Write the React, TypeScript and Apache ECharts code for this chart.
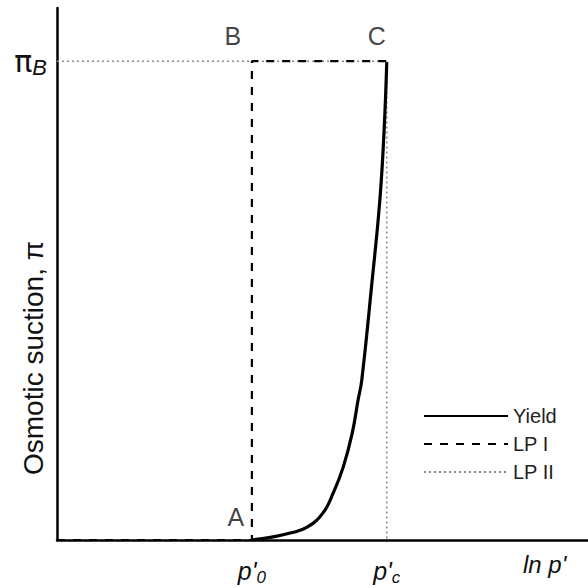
import React, { useEffect, useRef } from "react";
import * as echarts from "echarts";

// axis ranges (arbitrary units)
const X_MAX = 10;
const Y_MAX = 10;

// characteristic points
const P0 = 3.67; // p'0
const PC = 6.21; // p'c
const PI_B = 9; // π_B

// yield curve
const yieldX = [3.67, 4.07, 4.39, 4.71, 5.01, 5.2, 5.39, 5.56, 5.67, 5.74, 5.93, 6.08, 6.16, 6.21];
const yieldY = [0, 0.06, 0.13, 0.24, 0.51, 0.88, 1.37, 2.01, 2.63, 3.01, 4.83, 6.39, 7.7, 8.98];

// loading paths
const lp1X = [0, P0, P0, PC];
const lp1Y = [0, 0, PI_B, PI_B];
const lp2X = [0, PC, PC];
const lp2Y = [PI_B, PI_B, 0];

// point labels
const pointNames = ["A", "B", "C"];
const pointX = [P0, P0, PC];
const pointY = [0, PI_B, PI_B];

const legendNames = ["Yield", "LP I", "LP II"];

const FONT = "Liberation Sans, Arial, Helvetica, sans-serif";

export default function App() {
  const ref = useRef<HTMLDivElement>(null);

  useEffect(() => {
    if (!ref.current) return;
    const chart = echarts.init(ref.current, undefined, { renderer: "svg" });

    const zip = (xs: number[], ys: number[]) => xs.map((x, i) => [x, ys[i]]);
    const labelOffsets: [number, number][] = [
      [-16, -23],
      [-19, -25],
      [-10, -25],
    ];

    chart.setOption({
      animation: false,
      backgroundColor: "#ffffff",
      textStyle: { fontFamily: FONT },
      grid: { left: 57, top: 8, right: 0, bottom: 48, containLabel: false },
      xAxis: {
        type: "value",
        min: 0,
        max: X_MAX,
        name: "ln p'",
        nameLocation: "end",
        nameGap: -65,
        nameTextStyle: {
          fontFamily: FONT,
          fontSize: 24,
          fontStyle: "italic",
          color: "#111",
          align: "left",
          verticalAlign: "top",
          padding: [12, 0, 0, 0],
        },
        axisLine: { show: true, onZero: false, lineStyle: { color: "#000", width: 2.5 } },
        axisTick: { show: false },
        splitLine: { show: false },
        axisLabel: {
          customValues: [P0, PC],
          margin: 15,
          color: "#111",
          formatter: (v: number) =>
            Math.abs(v - P0) < 1e-6 ? "{p|p'}{s|0}" : "{p|p'}{s|c}",
          rich: {
            p: { fontFamily: FONT, fontSize: 25, fontStyle: "italic", color: "#111" },
            s: {
              fontFamily: FONT,
              fontSize: 17,
              fontStyle: "italic",
              color: "#111",
              verticalAlign: "bottom",
              padding: [14, 0, 0, 0],
            },
          },
        },
      },
      yAxis: {
        type: "value",
        min: 0,
        max: Y_MAX,
        axisLine: { show: true, onZero: false, lineStyle: { color: "#000", width: 2.5 } },
        axisTick: { show: false },
        splitLine: { show: false },
        axisLabel: {
          customValues: [PI_B],
          margin: 10,
          formatter: () => "{pi|π}{sub|B}",
          rich: {
            pi: { fontFamily: "DejaVu Sans, sans-serif", fontSize: 30, color: "#111" },
            sub: {
              fontFamily: FONT,
              fontSize: 22,
              fontStyle: "italic",
              color: "#111",
              verticalAlign: "bottom",
              padding: [12, 0, 0, 0],
            },
          },
        },
      },
      legend: {
        data: legendNames,
        orient: "vertical",
        left: 418,
        top: 401,
        itemWidth: 84,
        itemHeight: 20,
        itemGap: 8,
        itemStyle: { opacity: 0 },
        textStyle: { fontFamily: FONT, fontSize: 20, color: "#222" },
      },
      graphic: [
        {
          type: "text",
          x: 33,
          y: 358,
          rotation: Math.PI / 2,
          style: {
            text: "Osmotic suction, π",
            font: `28px ${FONT}`,
            fill: "#111",
            align: "center",
            verticalAlign: "middle",
          },
        },
      ],
      series: [
        {
          name: "LP II",
          type: "line",
          data: zip(lp2X, lp2Y),
          symbol: "none",
          clip: false,
          lineStyle: { color: "#8a8a8a", width: 1.6, type: [2, 3] },
          itemStyle: { color: "#8a8a8a" },
          z: 2,
        },
        {
          name: "LP I",
          type: "line",
          data: zip(lp1X, lp1Y),
          symbol: "none",
          clip: false,
          lineStyle: { color: "#000", width: 2.2, type: [8, 8] },
          itemStyle: { color: "#000" },
          z: 3,
        },
        {
          name: "Yield",
          type: "line",
          data: zip(yieldX, yieldY),
          symbol: "none",
          smooth: 0.45,
          clip: false,
          lineStyle: { color: "#000", width: 3.2 },
          itemStyle: { color: "#000" },
          z: 4,
        },
        {
          name: "points",
          type: "scatter",
          symbolSize: 0,
          clip: false,
          silent: true,
          data: pointNames.map((n, i) => ({
            value: [pointX[i], pointY[i]],
            name: n,
            label: { offset: labelOffsets[i] },
          })),
          label: {
            show: true,
            position: "inside",
            formatter: (p: any) => p.name,
            fontFamily: FONT,
            fontSize: 25,
            color: "#111",
            align: "center",
            verticalAlign: "middle",
          },
          z: 5,
        },
      ],
    });

    return () => chart.dispose();
  }, []);

  return (
    <div
      ref={ref}
      style={{ position: "fixed", left: 0, top: 0, width: 588, height: 588, background: "#fff" }}
    />
  );
}
